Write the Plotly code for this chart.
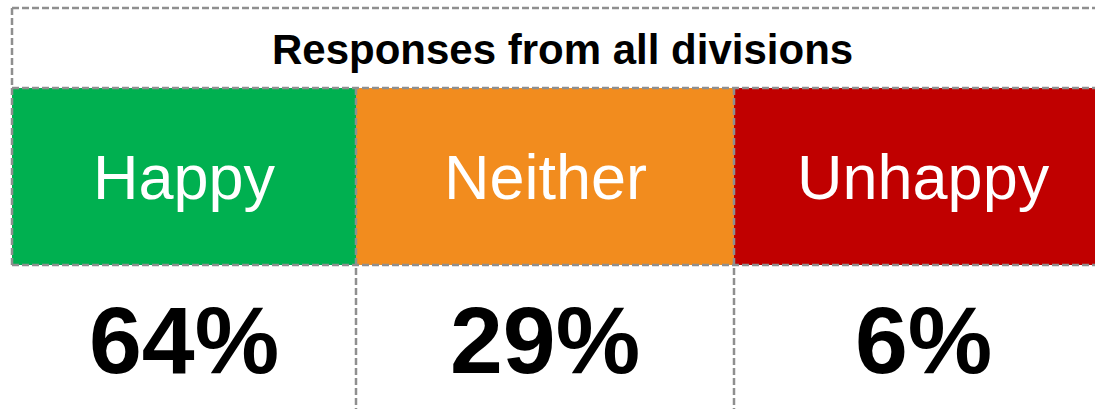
import plotly.graph_objects as go

# ---- data ----
title_text = "Responses from all divisions"
categories = ["Happy", "Neither", "Unhappy"]
percents = [64, 29, 6]
colors = ["#00B050", "#F28C1E", "#C00000"]

# ---- layout geometry (pixel-like axis units) ----
W, H = 1095, 409
col_edges = [12, 356, 734, 1112]
top_y, title_bottom, color_bottom, bottom_y = 8, 88, 265, 430

centers = [(col_edges[i] + col_edges[i + 1]) / 2 for i in range(len(categories))]
widths = [col_edges[i + 1] - col_edges[i] for i in range(len(categories))]

fig = go.Figure()
fig.add_trace(go.Bar(
    x=centers,
    y=[color_bottom - title_bottom] * len(categories),
    base=[title_bottom] * len(categories),
    width=widths,
    marker=dict(color=colors, line=dict(width=0)),
    hoverinfo="skip",
    showlegend=False,
))

font_family = "Liberation Sans, Arial, Helvetica, sans-serif"
annotations = [dict(
    x=(col_edges[0] + col_edges[-1]) / 2, y=(top_y + title_bottom) / 2 + 1,
    xref="x", yref="y", text="<b>%s</b>" % title_text, showarrow=False,
    font=dict(family=font_family, size=42, color="#000000"),
    xanchor="center", yanchor="middle",
)]
for cx, cat, p in zip(centers, categories, percents):
    annotations.append(dict(
        x=cx, y=(title_bottom + color_bottom) / 2, xref="x", yref="y",
        text=cat, showarrow=False,
        font=dict(family=font_family, size=63, color="#FFFFFF"),
        xanchor="center", yanchor="middle",
    ))
    annotations.append(dict(
        x=cx, y=340, xref="x", yref="y",
        text="<b>%d%%</b>" % p, showarrow=False,
        font=dict(family=font_family, size=95, color="#000000"),
        xanchor="center", yanchor="middle",
    ))

dash_line = dict(color="#8f8f8f", width=2.5, dash="7px,3px")
shapes = [
    dict(type="line", xref="x", yref="y", x0=col_edges[0], x1=W + 5, y0=top_y, y1=top_y, line=dash_line),
    dict(type="line", xref="x", yref="y", x0=col_edges[0], x1=W + 5, y0=title_bottom, y1=title_bottom, line=dash_line),
    dict(type="line", xref="x", yref="y", x0=col_edges[0], x1=W + 5, y0=color_bottom, y1=color_bottom, line=dash_line),
    dict(type="line", xref="x", yref="y", x0=col_edges[0], x1=col_edges[0], y0=top_y, y1=color_bottom, line=dash_line),
    dict(type="line", xref="x", yref="y", x0=col_edges[1], x1=col_edges[1], y0=title_bottom, y1=bottom_y, line=dash_line),
    dict(type="line", xref="x", yref="y", x0=col_edges[2], x1=col_edges[2], y0=title_bottom, y1=bottom_y, line=dash_line),
]

fig.update_layout(
    width=W, height=H,
    margin=dict(l=0, r=0, t=0, b=0),
    paper_bgcolor="#FFFFFF", plot_bgcolor="#FFFFFF",
    xaxis=dict(range=[0, W], visible=False, fixedrange=True),
    yaxis=dict(range=[H, 0], visible=False, fixedrange=True),
    annotations=annotations,
    shapes=shapes,
    bargap=0,
)

fig.write_html(
    "out.html",
    config={"displayModeBar": False},
    post_script="document.body.style.margin='0';document.body.style.overflow='hidden';",
)
